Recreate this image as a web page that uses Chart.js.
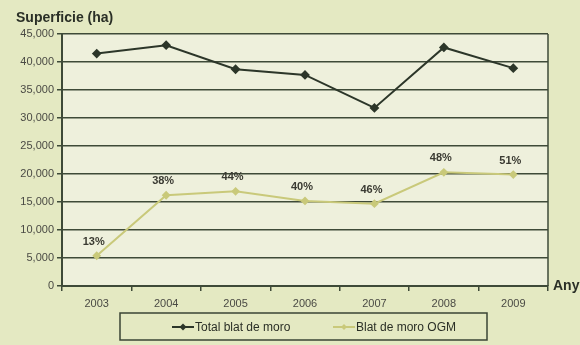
<!DOCTYPE html>
<html>
<head>
<meta charset="utf-8">
<script src="https://cdn.jsdelivr.net/npm/chart.js@4.4.1/dist/chart.umd.min.js"></script>
<style>
  html, body { margin: 0; padding: 0; background: #e4e9c2; }
  #wrap { width: 580px; height: 345px; position: relative; }
</style>
</head>
<body>
<div id="wrap"><canvas id="c" width="580" height="345"></canvas></div>
<script>
// Superfície de blat de moro (ha), total i OGM, 2003-2009
const years = ['2003', '2004', '2005', '2006', '2007', '2008', '2009'];
const totalBlat = [41500, 43000, 38700, 37700, 31800, 42600, 38900];
const blatOGM = [5400, 16200, 16900, 15200, 14700, 20300, 19900];
const pctOGM = ['13%', '38%', '44%', '40%', '46%', '48%', '51%'];
const yTicks = [0, 5000, 10000, 15000, 20000, 25000, 30000, 35000, 40000, 45000];

const FONT = '"Liberation Sans", Arial, sans-serif';
const DARK = '#2c3629';
const OGM = '#c9c97a';
const GRID = '#3e4a38';

function diamond(ctx, x, y, r) {
  ctx.beginPath();
  ctx.moveTo(x, y - r); ctx.lineTo(x + r, y); ctx.lineTo(x, y + r); ctx.lineTo(x - r, y);
  ctx.closePath(); ctx.fill();
}

const decor = {
  id: 'decor',
  beforeDraw(chart) {
    const { ctx, chartArea: a } = chart;
    ctx.save();
    ctx.fillStyle = '#eef0dc';
    ctx.fillRect(a.left, a.top, a.right - a.left, a.bottom - a.top);
    ctx.restore();
  },
  afterDraw(chart) {
    const { ctx, chartArea: a } = chart;
    ctx.save();
    // plot frame on the right
    ctx.strokeStyle = GRID; ctx.lineWidth = 1.5;
    ctx.beginPath(); ctx.moveTo(a.right, a.top); ctx.lineTo(a.right, a.bottom); ctx.stroke();
    // titles
    ctx.fillStyle = '#2a2f26';
    ctx.font = 'bold 14px ' + FONT;
    ctx.textBaseline = 'alphabetic'; ctx.textAlign = 'left';
    ctx.fillText('Superficie (ha)', 16, 22);
    ctx.fillText('Any', 553, 290);
    // percentage labels over the OGM series
    const meta = chart.getDatasetMeta(1);
    ctx.font = 'bold 11px ' + FONT;
    ctx.fillStyle = '#3a3a32';
    ctx.textAlign = 'center';
    meta.data.forEach((pt, i) => {
      ctx.fillText(pctOGM[i], pt.x - 3, pt.y - 11);
    });
    // legend: framed box with a line+diamond glyph per series
    ctx.strokeStyle = '#3a4434'; ctx.lineWidth = 1.5;
    ctx.strokeRect(120, 313, 367, 27);
    const entries = [172, 333];
    ctx.font = '12px ' + FONT;
    ctx.textAlign = 'left'; ctx.textBaseline = 'middle';
    chart.data.datasets.forEach((ds, i) => {
      const x0 = entries[i], y0 = 327;
      ctx.strokeStyle = ds.borderColor; ctx.lineWidth = 2;
      ctx.beginPath(); ctx.moveTo(x0, y0); ctx.lineTo(x0 + 22, y0); ctx.stroke();
      ctx.fillStyle = ds.borderColor;
      diamond(ctx, x0 + 11, y0, ds.pointRadius);
      ctx.fillStyle = '#2a2f26';
      ctx.fillText(ds.label, x0 + 23, y0 + 1);
    });
    ctx.restore();
  }
};

new Chart(document.getElementById('c'), {
  type: 'line',
  data: {
    labels: years,
    datasets: [
      {
        label: 'Total blat de moro',
        data: totalBlat,
        borderColor: DARK, backgroundColor: DARK,
        borderWidth: 2, pointStyle: 'rectRot', pointRadius: 3.5,
        tension: 0
      },
      {
        label: 'Blat de moro OGM',
        data: blatOGM,
        borderColor: OGM, backgroundColor: OGM,
        borderWidth: 2, pointStyle: 'rectRot', pointRadius: 3,
        tension: 0
      }
    ]
  },
  options: {
    responsive: false,
    animation: false,
    layout: { padding: { left: 0, right: 32, top: 34, bottom: 31 } },
    plugins: {
      tooltip: { enabled: false },
      legend: { display: false }
    },
    scales: {
      x: {
        offset: true,
        grid: { offset: true, drawOnChartArea: false, drawTicks: true, tickLength: 5, color: GRID, lineWidth: 1.5 },
        border: { color: GRID, width: 2 },
        ticks: { color: '#4a4a44', font: { family: FONT, size: 11 }, padding: 6 },
        afterFit(s) { s.height = 28; }
      },
      y: {
        min: 0, max: 45000,
        afterBuildTicks(s) { s.ticks = yTicks.map(v => ({ value: v })); },
        grid: { color: GRID, lineWidth: 1.5, tickLength: 5 },
        border: { color: GRID, width: 2 },
        ticks: {
          color: '#4a4a44', font: { family: FONT, size: 11 }, padding: 3,
          callback: v => v.toLocaleString('en-US')
        },
        afterFit(s) { s.width = 62; }
      }
    }
  },
  plugins: [decor]
});
</script>
</body>
</html>
